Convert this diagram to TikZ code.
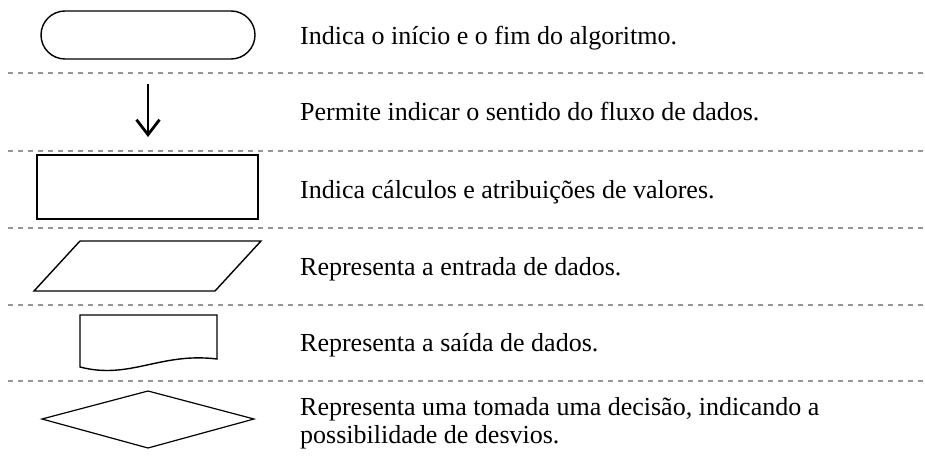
\documentclass[tikz,border=0pt]{standalone}
\usepackage{fontspec}
\setmainfont{Liberation Serif}
\usetikzlibrary{arrows.meta}
\tikzset{
  sep/.style={draw={rgb,255:red,150;green,150;blue,150}, line width=1.4pt, dash pattern=on 5pt off 5pt},
  shapeline/.style={draw=black, line width=1.4pt, line join=miter},
  desc/.style={anchor=base west, inner sep=0pt, font=\fontsize{26}{28}\selectfont, align=left},
  flowarrow/.style={draw=black, line width=2.8pt, -{Straight Barb[length=15pt, width=23pt, line width=2.8pt]}}
}
\begin{document}
\begin{tikzpicture}[x=1pt, y=-1pt]
\useasboundingbox (0,0) rectangle (925,457);
% separators
\foreach \yy/\nm in {73/s1, 151/s2, 228/s3, 305/s4, 381/s5} {
  \coordinate (\nm a) at (8,\yy);
  \coordinate (\nm b) at (925,\yy);
  \draw[sep] (\nm a) -- (\nm b);
}
% terminal
\draw[shapeline, rounded corners=24pt] (41,11) rectangle (255,59);
% arrow
\coordinate (arrA) at (148,84);
\coordinate (arrB) at (148,137);
\draw[flowarrow] (arrA) -- (arrB);
% process
\draw[shapeline] (37,155) rectangle (258,219);
% input parallelogram
\draw[shapeline] (80,241) -- (261,241) -- (215,291) -- (34,291) -- cycle;
% output document
\draw[shapeline] (80,315) -- (217,315) -- (217,359) .. controls (160,352) and (130,380) .. (80,367) -- cycle;
% decision
\draw[shapeline, line width=1.2pt] (42,419) -- (148,391) -- (254,419) -- (148,448) -- cycle;
% texts
\node[desc] (t1) at (300,45) {Indica o início e o fim do algoritmo.};
\node[desc] (t2) at (300,121) {Permite indicar o sentido do fluxo de dados.};
\node[desc] (t3) at (300,198) {Indica cálculos e atribuições de valores.};
\node[desc] (t4) at (300,275) {Representa a entrada de dados.};
\node[desc] (t5) at (300,351) {Representa a saída de dados.};
\node[desc] (t6) at (300,443) {Representa uma tomada uma decisão, indicando a\\possibilidade de desvios.};
\end{tikzpicture}
\end{document}
